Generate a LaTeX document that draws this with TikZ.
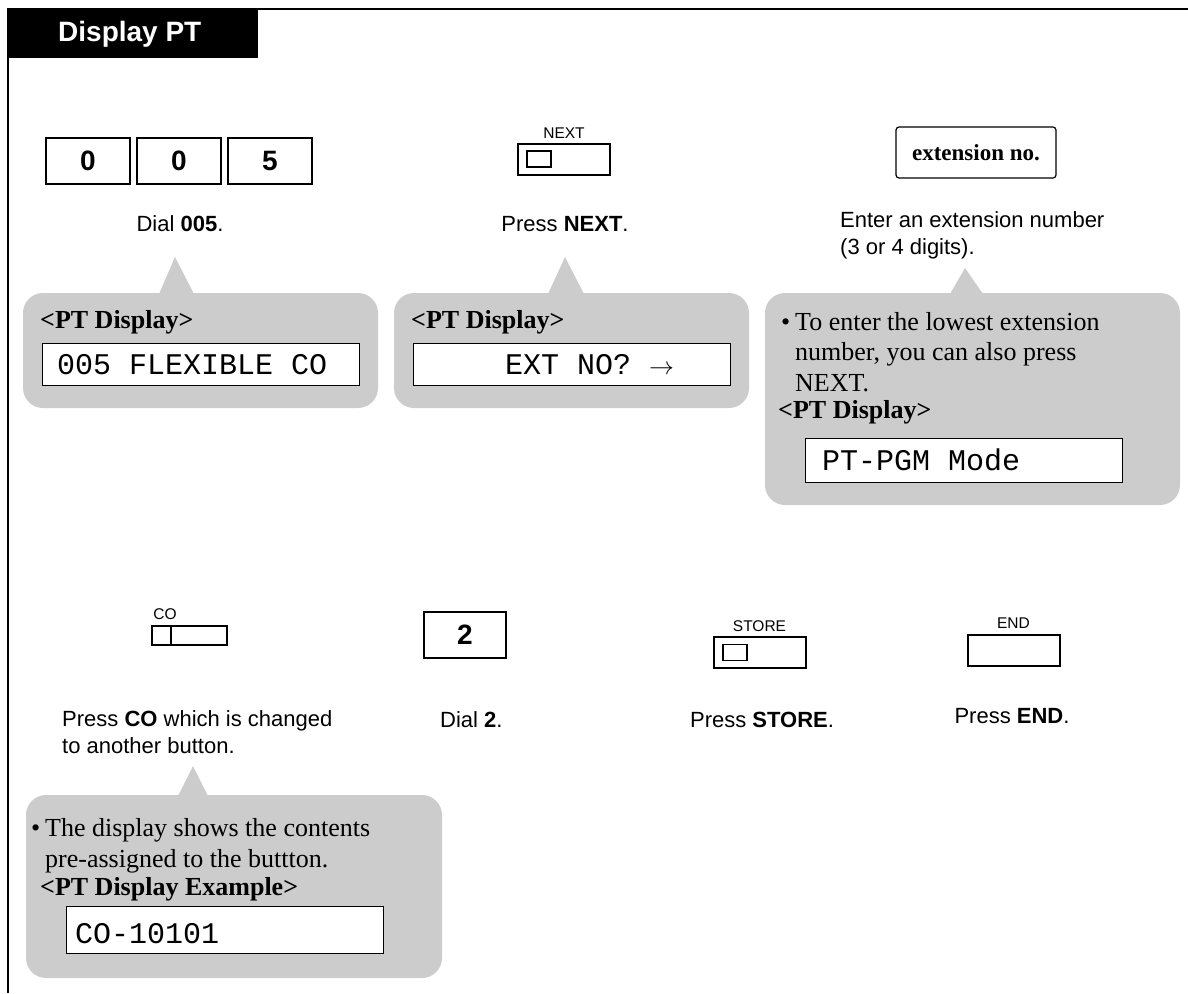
\documentclass[tikz,border=0pt]{standalone}
\usepackage{fontspec}
\setmainfont{Liberation Serif}
\setsansfont{Liberation Sans}
\setmonofont{Liberation Mono}
\usetikzlibrary{positioning}
\definecolor{bubblegray}{RGB}{204,204,204}

\begin{document}
\begin{tikzpicture}[x=1pt, y=-1pt,
  key/.style={draw, line width=2pt, outer sep=0pt, minimum width=84pt, minimum height=46pt, inner sep=0pt, font=\fontsize{28}{32}\selectfont\sffamily\bfseries},
  btn/.style={draw, line width=2pt, outer sep=0pt, minimum width=92pt, minimum height=31pt, inner sep=0pt},
  lamp/.style={draw, line width=1.6pt, outer sep=0pt, minimum width=24pt, minimum height=16pt, inner sep=0pt},
  btnlabel/.style={inner sep=0pt, anchor=base, font=\fontsize{15.5}{18}\selectfont\sffamily},
  txt/.style={inner sep=0pt, anchor=base west, align=left, font=\fontsize{22}{27}\selectfont\sffamily},
  ctxt/.style={txt, anchor=base},
  bubble/.style={fill=bubblegray},
  note/.style={inner sep=0pt, anchor=base west, align=left, font=\fontsize{26}{30.5}\selectfont},
  head/.style={note, font=\fontsize{26}{30}\selectfont\bfseries},
  lcd/.style={draw, fill=white, line width=0.9pt, anchor=north west, inner sep=0pt},
  lcdtext/.style={inner sep=0pt, anchor=base west, font=\fontsize{30}{34}\selectfont\ttfamily}
]
\useasboundingbox (0,0) rectangle (1188,993);

% frame and title bar
\draw[line width=2pt] (8,993) -- (8,9) -- (1188,9);
\fill (8,9) rectangle (258,58);
\node[txt, text=white, font=\fontsize{28}{32}\selectfont\sffamily\bfseries] (title) at (58,41) {Display PT};

% step 1: dial 005
\node[key] (k0a) at (88,161) {0};
\node[key, right=7pt of k0a] (k0b) {0};
\node[key, right=7pt of k0b] (k5) {5};
\node[ctxt] (dial) at (180,231) {Dial \textbf{005}.};

\fill[bubble, rounded corners=20pt] (23,293) rectangle (378,408);
\fill[bubble] (159,294) -- (175,257) -- (194,294) -- cycle;
\node[head] (hd1) at (40,328) {<PT Display>};
\node[lcd, minimum width=317pt, minimum height=42pt] (lcd1) at (42,343) {};
\node[lcdtext] (lcdtxt1) at (57,374) {005 FLEXIBLE CO};

% step 2: NEXT
\node[btn] (next) at (564,159) {};
\node[lamp, right=9pt of next.west] (nextlamp) {};
\node[btnlabel] (nextlbl) at (564,138) {NEXT};
\node[ctxt] (pressnext) at (565,231) {Press \textbf{NEXT}.};

\fill[bubble, rounded corners=20pt] (394,293) rectangle (749,408);
\fill[bubble] (548,294) -- (565,257) -- (584,294) -- cycle;
\node[head] (hd2) at (411,328) {<PT Display>};
\node[lcd, minimum width=317pt, minimum height=42pt] (lcd2) at (413,343) {};
\node[lcdtext] (lcdtxt2) at (505,374) {EXT NO? $\rightarrow$};

% step 3: extension number
\node[draw, rounded corners=3pt, line width=1.2pt, minimum width=160pt, minimum height=51pt,
  font=\fontsize{23}{27}\selectfont\bfseries] (ext) at (976,152.5) {extension no.};
\node[txt] (enter) at (840,254) {Enter an extension number\\(3 or 4 digits).};

\fill[bubble, rounded corners=20pt] (765,293) rectangle (1180,505);
\fill[bubble] (950,294) -- (965,268) -- (983,294) -- cycle;
\node[note] (note1) at (795,391) {\llap{\textbullet\hspace{5pt}}To enter the lowest extension\\number, you can also press\\NEXT.};
\node[head] (hd3) at (778,418) {<PT Display>};
\node[lcd, minimum width=317pt, minimum height=44pt] (lcd3) at (805,438) {};
\node[lcdtext] (lcdtxt3) at (822,470) {PT-PGM Mode};

% step 4: CO
\node[btn, minimum width=75pt, minimum height=19pt] (co) at (189.5,635.5) {};
\draw[line width=2pt] ([xshift=19pt]co.north west) -- ([xshift=19pt]co.south west);
\node[btnlabel] (colbl) at (165,619) {CO};
\node[txt] (pressco) at (62,753) {Press \textbf{CO} which is changed\\to another button.};

\fill[bubble, rounded corners=20pt] (26,795) rectangle (442,978);
\fill[bubble] (178,796) -- (193,766) -- (208,796) -- cycle;
\node[note] (note2) at (45,867) {\llap{\textbullet\hspace{5pt}}The display shows the contents\\pre-assigned to the buttton.};
\node[head] (hd4) at (40,895) {<PT Display Example>};
\node[lcd, minimum width=317pt, minimum height=47pt] (lcd4) at (66,906) {};
\node[lcdtext] (lcdtxt4) at (75,943) {CO-10101};

% step 5: dial 2
\node[key, minimum width=82pt] (k2) at (465,635) {2};
\node[txt] (dial2) at (440,727) {Dial \textbf{2}.};

% step 6: STORE
\node[btn] (store) at (760,652.5) {};
\node[lamp, right=9pt of store.west] (storelamp) {};
\node[btnlabel] (storelbl) at (759.5,631) {STORE};
\node[ctxt] (pressstore) at (762,727) {Press \textbf{STORE}.};

% step 7: END
\node[btn] (endbtn) at (1013.5,650.5) {};
\node[btnlabel] (endlbl) at (1013.5,628) {END};
\node[ctxt] (pressend) at (1012,723) {Press \textbf{END}.};
\end{tikzpicture}
\end{document}
